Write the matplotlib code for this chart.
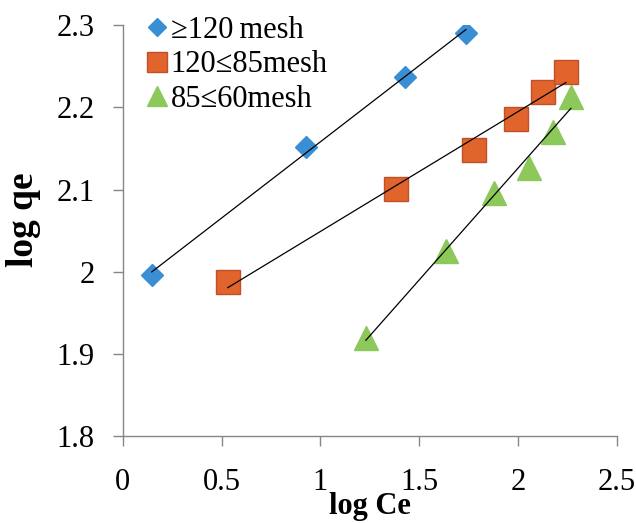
import numpy as np
import matplotlib
matplotlib.use("Agg")
import matplotlib.pyplot as plt

# ── data ──────────────────────────────────────────────────────────────────────
x_120 = [0.147, 0.926, 1.427, 1.736]
y_120 = [1.996, 2.152, 2.237, 2.291]

x_85 = [0.531, 1.382, 1.776, 1.989, 2.125, 2.242]
y_85 = [1.987, 2.101, 2.148, 2.186, 2.219, 2.243]

x_60 = [1.230, 1.635, 1.877, 2.055, 2.176, 2.267]
y_60 = [1.920, 2.025, 2.096, 2.126, 2.170, 2.213]

labels = ["\u2265120\u2009mesh", "120\u226485mesh", "85\u226460mesh"]
xticks = [0, 0.5, 1, 1.5, 2, 2.5]
yticks = [1.8, 1.9, 2.0, 2.1, 2.2, 2.3]
ytick_labels = ["1.8", "1.9", "2", "2.1", "2.2", "2.3"]

plt.rcParams["font.family"] = ["Liberation Serif", "DejaVu Serif"]

fig = plt.figure(figsize=(6.36, 5.23), dpi=100)
ax = fig.add_axes([0.193, 0.166, 0.777, 0.786])

series = [
    (x_120, y_120, dict(marker="D", ms=11, mfc="#3a8fd4", mec="#3a8fd4")),
    (x_85, y_85, dict(marker="s", ms=17, mfc="#e0642c", mec="#c0502a")),
    (x_60, y_60, dict(marker="^", ms=17, mfc="#8cc85a", mec="#8cc85a")),
]
for (xs, ys, style), lab in zip(series, labels):
    ax.plot(xs, ys, ls="none", label=lab, zorder=2, **style)
    k, b = np.polyfit(xs, ys, 1)
    xx = np.array([min(xs), max(xs)])
    ax.plot(xx, k * xx + b, color="black", lw=0.9, zorder=3)

ax.set_xlim(0, 2.5)
ax.set_ylim(1.8, 2.3)
ax.set_xticks(xticks)
ax.set_xticklabels([f"{v:g}" for v in xticks], fontsize=22)
ax.set_yticks(yticks)
ax.set_yticklabels(ytick_labels, fontsize=22)
ax.tick_params(direction="out", length=7, color="#868686", width=1)
ax.tick_params(axis="x", pad=16)
ax.tick_params(axis="y", pad=13)

for s in ("top", "right"):
    ax.spines[s].set_visible(False)
for s in ("left", "bottom"):
    ax.spines[s].set_color("#868686")
    ax.spines[s].set_linewidth(1)

ax.set_xlabel("log Ce", fontsize=22, fontweight="bold", labelpad=-4)
ax.set_ylabel("log qe", fontsize=27, fontweight="bold")
ax.yaxis.set_label_coords(-0.165, 0.527)

leg = ax.legend(loc="upper left", bbox_to_anchor=(0.02, 1.052), frameon=False,
                fontsize=22, handletextpad=0.05, labelspacing=0.18,
                handlelength=0.8, borderaxespad=0, markerscale=0.85)

fig.savefig("out.png", dpi=100)
